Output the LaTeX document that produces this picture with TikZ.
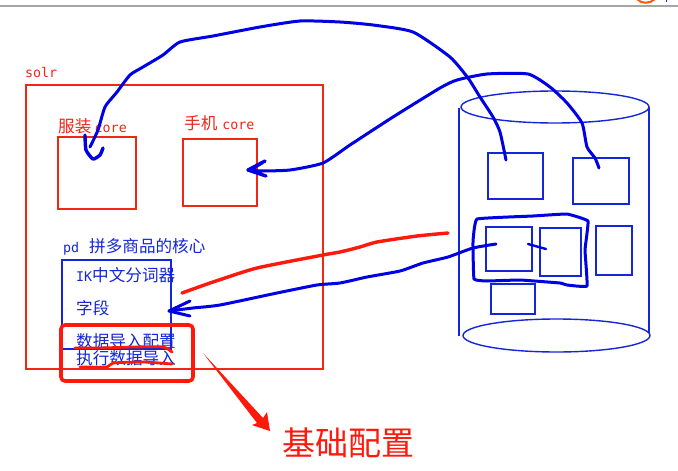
\documentclass[tikz,border=0pt]{standalone}
\usepackage{fontspec}
\usepackage{tikz}
\usetikzlibrary{arrows}
\usetikzlibrary{shapes.geometric}
\newfontfamily\cjk{Noto Sans CJK SC}
\newfontfamily\mono{DejaVu Sans Mono}
\definecolor{pred}{rgb}{0.95, 0.15, 0.08}
\definecolor{pblue}{rgb}{0.08, 0.15, 0.85}
\definecolor{mblue}{rgb}{0, 0, 0.9}
\definecolor{mred}{rgb}{1, 0.1, 0.05}
\definecolor{morange}{rgb}{1, 0.35, 0.05}
\newcommand{\lat}[1]{{\mono\fontsize{13.3}{14}\selectfont #1}}
\newcommand{\han}[1]{{\cjk\fontsize{16.6}{18}\selectfont #1}}

\begin{document}
\begin{tikzpicture}[x=1pt, y=-1pt,
    box/.style={draw, line width=1.5, anchor=north west, inner sep=0, outer sep=0},
    redbox/.style={box, pred},
    bluebox/.style={box, pblue},
    redlabel/.style={pred, anchor=west, inner sep=0},
    bluelabel/.style={pblue, anchor=west, inner sep=0},
    barrel/.style={draw=pblue, line width=1.4, ellipse, inner sep=0, outer sep=0},
    marker/.style={mblue, line width=3, line cap=round, line join=round},
    redmarker/.style={mred, line width=3.4, line cap=round, line join=round},
    stroke/.style={smooth, tension=0.35}]
    \useasboundingbox [fill=white] (0, 0) rectangle (678, 471);

    % window edge
    \draw [gray!70, line width=1.2] (0, 6) -- (678, 6);
    \draw [morange, line width=2] (637, -1) .. controls (641, 4) and (650, 4) .. (655, -1);
    \fill [pblue] (665.5, 0) rectangle (667, 1.5);

    % solr
    \node [redlabel] (solrlabel) at (25, 73) {\lat{solr}};
    \node [redbox, minimum width=297, minimum height=284] (solr) at (26, 85) {};
    \node [redbox, minimum width=78, minimum height=72] (clothes) at (58, 137) {};
    \node [redbox, minimum width=74, minimum height=67] (phone) at (183, 139) {};
    \node [redlabel] (clotheslabel) at (58, 126) {\han{服装} \lat{core}};
    \node [redlabel] (phonelabel) at (184, 123) {\han{手机}\hspace{5pt}\lat{core}};

    % pd
    \node [bluelabel] (pdlabel) at (63, 247) {\lat{pd}\hspace{10pt}\han{拼多商品的核心}};
    \node [bluebox, minimum width=109, minimum height=89] (pd) at (62, 260) {};
    \node [bluelabel] (ik) at (76, 275) {\lat{IK}\han{中文分词器}};
    \node [bluelabel] (field) at (76, 308) {\han{字段}};
    \node [bluelabel] (importcfg) at (76, 341) {\han{数据导入配置}};
    \node [bluelabel] (importrun) at (76, 358) {\han{执行数据导入}};

    % cylinder
    \node [barrel, minimum width=188, minimum height=32] (top) at (555, 107) {};
    \node [barrel, minimum width=187, minimum height=33] (bottom) at (556.5, 335.5) {};
    \draw [pblue, line width=1.4] (459, 108) -- (459, 336);
    \draw [pblue, line width=1.4] (649, 107) -- (649, 333);

    \node [bluebox, minimum width=55, minimum height=46] (tableA) at (488, 153) {};
    \node [bluebox, minimum width=56, minimum height=46] (tableB) at (573, 158) {};
    \node [bluebox, minimum width=46, minimum height=44] (tableC) at (486, 227) {};
    \node [bluebox, minimum width=41, minimum height=48] (tableD) at (540, 228) {};
    \node [bluebox, minimum width=36, minimum height=49] (tableE) at (596, 226) {};
    \node [bluebox, minimum width=44, minimum height=30] (tableF) at (491, 284) {};

    \coordinate (fromA) at (506, 160);
    \coordinate (toClothes) at (90, 147);
    \coordinate (fromB) at (599, 168);
    \coordinate (toPhone) at (248, 170);
    \coordinate (fromC) at (496, 244);
    \coordinate (toField) at (169, 311);
    \coordinate (fromRed) at (448, 233);
    \coordinate (toRed) at (182, 293);

    % hand drawn
    \draw [marker] plot [stroke] coordinates {(fromA) (500, 132) (493, 117) (480, 97) (468, 78) (450, 57) (413, 32) (373, 25) (340, 22) (300, 21) (260, 27) (213, 36) (180, 42) (163, 55) (143, 67) (130, 75) (117, 92) (105, 107) (98, 130) (toClothes)};
    \draw [marker, line width=3.4] plot [stroke] coordinates {(85, 135) (86, 150) (93, 159) (100, 155) (103, 148)};

    \draw [marker] plot [stroke] coordinates {(fromB) (595, 158) (587, 147) (582, 123) (567, 103) (550, 87) (528, 74) (487, 74) (457, 80) (440, 88) (393, 117) (350, 145) (323, 163) (290, 170) (260, 171) (toPhone)};
    \draw [marker, line width=3.4] (265, 161) -- (toPhone) -- (266, 176);
    \draw [mblue, line width=3] (262, 163) -- (252, 169) -- (262, 173);

    \draw [marker] plot [stroke] coordinates {(fromC) (473, 248) (448, 257) (423, 263) (400, 271) (367, 277) (340, 283) (317, 285) (277, 293) (220, 305) (193, 308) (toField)};
    \draw [marker] (190, 301) -- (toField) -- (190, 316);
    \draw [marker, line width=2.4] (528, 244) -- (546, 249);

    \draw [marker] plot [smooth cycle, tension=0.15] coordinates {(477, 219) (533, 216) (567, 214) (588, 221) (585, 250) (587, 286) (567, 285) (560, 283) (520, 280) (487, 281) (474, 279) (473, 242)};

    \draw [redmarker] plot [stroke] coordinates {(fromRed) (417, 236) (377, 242) (360, 247) (340, 252) (323, 255) (257, 268) (213, 282) (toRed)};
    \draw [redmarker, line width=2.8] plot [stroke] coordinates {(75, 348) (100, 348) (133, 347) (163, 347) (172, 352)};
    \draw [redmarker, line width=2.8] plot [stroke] coordinates {(80, 367) (107, 367) (113, 363) (143, 362) (172, 364)};
    \draw [mred, line width=3.6, rounded corners=4] (61, 325) rectangle (193, 381);
    \fill [mred] (203, 353) -- (263, 418) -- (267, 412) -- (270, 431) -- (252, 425) -- (257, 423) -- cycle;

    \node [anchor=west, inner sep=0, mred] (basecfg) at (282, 443) {\cjk\fontsize{33}{36}\selectfont 基础配置};
  \end{tikzpicture}
\end{document}
